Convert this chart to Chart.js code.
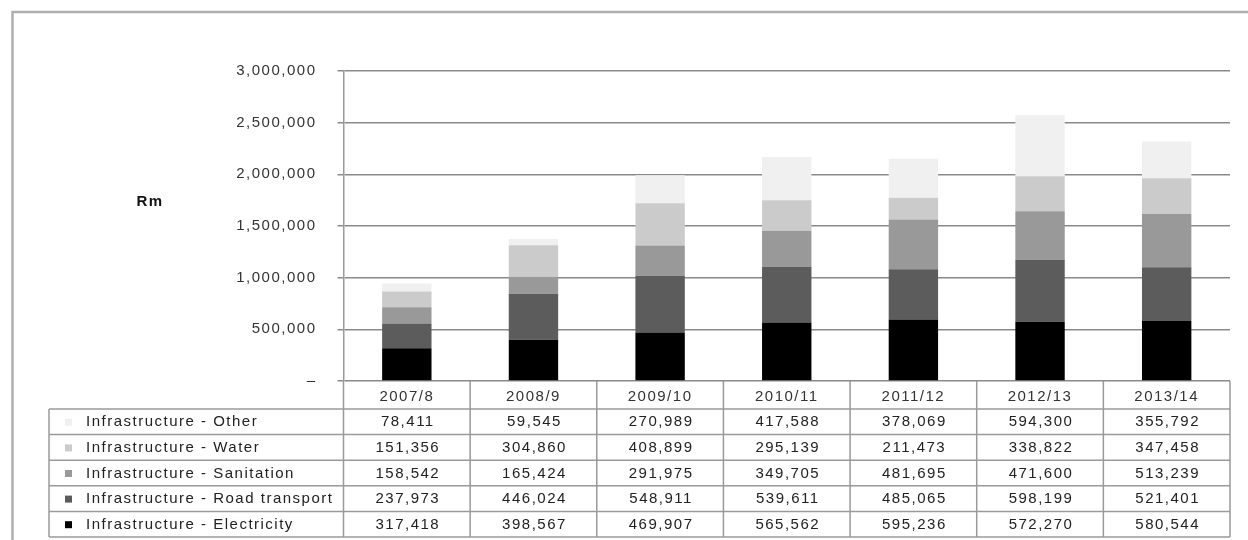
<!DOCTYPE html>
<html>
<head>
<meta charset="utf-8">
<script src="https://cdn.jsdelivr.net/npm/chart.js@4.4.1/dist/chart.umd.min.js"></script>
<style>
  html, body { margin: 0; padding: 0; background: #fff; }
  #wrap { width: 1248px; height: 540px; position: relative; }
</style>
</head>
<body>
<div id="wrap"><canvas id="c" width="1248" height="540"></canvas></div>
<script>
// Capital spending by infrastructure type, Rm
const years = ['2007/8', '2008/9', '2009/10', '2010/11', '2011/12', '2012/13', '2013/14'];
const electricity   = [317418, 398567, 469907, 565562, 595236, 572270, 580544];
const roadTransport = [237973, 446024, 548911, 539611, 485065, 598199, 521401];
const sanitation    = [158542, 165424, 291975, 349705, 481695, 471600, 513239];
const water         = [151356, 304860, 408899, 295139, 211473, 338822, 347458];
const other         = [78411, 59545, 270989, 417588, 378069, 594300, 355792];
const yTicks = [0, 500000, 1000000, 1500000, 2000000, 2500000, 3000000];

const FONT_FAMILY = '"Liberation Sans", Arial, sans-serif';
const LINE = '#9a9a9a';

// bottom-up stacking order
const series = [
  { label: 'Infrastructure - Electricity',    data: electricity,   color: '#000000' },
  { label: 'Infrastructure - Road transport', data: roadTransport, color: '#5c5c5c' },
  { label: 'Infrastructure - Sanitation',     data: sanitation,    color: '#999999' },
  { label: 'Infrastructure - Water',          data: water,         color: '#cbcbcb' },
  { label: 'Infrastructure - Other',          data: other,         color: '#f0f0f0' }
];

const fmt = v => v.toLocaleString('en-US');

// wide Excel-style lettering
const spacingPlugin = {
  id: 'spacing',
  beforeDraw(chart) { chart.ctx.letterSpacing = '1.5px'; }
};

// frame, unit label and the data table under the axis
const tablePlugin = {
  id: 'dataTable',
  afterDraw(chart) {
    const ctx = chart.ctx;
    const xs = chart.scales.x;
    const area = chart.chartArea;
    const step = xs.getPixelForValue(1) - xs.getPixelForValue(0);
    const colLeft = i => xs.getPixelForValue(i) - step / 2;
    const right = colLeft(years.length);
    const headTop = area.bottom;
    const headBottom = xs.bottom;
    const rowH = 25.6;
    const legendLeft = 49;
    const rows = series.slice().reverse();
    const tableBottom = headBottom + rows.length * rowH;

    ctx.save();
    // outer frame
    ctx.strokeStyle = '#b0b0b0';
    ctx.lineWidth = 2.5;
    ctx.strokeRect(12.5, 12, 1400, 700);

    // unit label
    ctx.fillStyle = '#111';
    ctx.font = 'bold 15px ' + FONT_FAMILY;
    ctx.textAlign = 'center';
    ctx.textBaseline = 'middle';
    ctx.fillText('Rm', 150, 202);

    // grid of the table
    ctx.strokeStyle = LINE;
    ctx.lineWidth = 1.5;
    ctx.beginPath();
    for (let i = 0; i <= years.length; i++) {
      const x = colLeft(i);
      ctx.moveTo(x, headTop);
      ctx.lineTo(x, tableBottom);
    }
    for (let k = 0; k <= rows.length; k++) {
      const y = headBottom + k * rowH;
      ctx.moveTo(legendLeft, y);
      ctx.lineTo(right, y);
    }
    ctx.moveTo(legendLeft, headBottom);
    ctx.lineTo(legendLeft, tableBottom);
    ctx.stroke();

    // rows: legend key, series name, values
    ctx.font = '15px ' + FONT_FAMILY;
    ctx.textBaseline = 'middle';
    rows.forEach((s, k) => {
      const cy = headBottom + k * rowH + rowH / 2 + 0.5;
      ctx.fillStyle = s.color;
      ctx.fillRect(65, cy - 3.5, 7, 7);
      ctx.fillStyle = '#222';
      ctx.textAlign = 'left';
      ctx.fillText(s.label, 86, cy);
      ctx.textAlign = 'center';
      s.data.forEach((v, i) => {
        ctx.fillText(fmt(v), xs.getPixelForValue(i) + 1, cy);
      });
    });
    ctx.restore();
  }
};

new Chart(document.getElementById('c'), {
  type: 'bar',
  data: {
    labels: years,
    datasets: series.map(s => ({
      label: s.label,
      data: s.data,
      backgroundColor: s.color,
      borderWidth: 0,
      barPercentage: 0.39,
      categoryPercentage: 1.0
    }))
  },
  options: {
    responsive: false,
    animation: false,
    devicePixelRatio: 1,
    layout: { padding: { top: 71, right: 18, bottom: 131, left: 0 } },
    plugins: {
      legend: { display: false },
      tooltip: { enabled: false }
    },
    scales: {
      x: {
        stacked: true,
        grid: { display: false, drawTicks: false },
        border: { display: false },
        ticks: {
          color: '#333',
          font: { family: FONT_FAMILY, size: 15 },
          padding: 7,
          maxRotation: 0,
          autoSkip: false
        },
        afterFit(scale) { scale.height = 28; }
      },
      y: {
        stacked: true,
        min: 0,
        max: 3000000,
        z: 1,
        afterBuildTicks(scale) { scale.ticks = yTicks.map(v => ({ value: v })); },
        ticks: {
          color: '#333',
          font: { family: FONT_FAMILY, size: 15 },
          padding: 21,
          callback: v => (v === 0 ? '–' : fmt(v))
        },
        grid: { color: '#8a8a8a', lineWidth: 1.5, tickLength: 6 },
        border: { color: LINE, width: 1.5 },
        afterFit(scale) { scale.width = 343.5; }
      }
    }
  },
  plugins: [spacingPlugin, tablePlugin]
});
</script>
</body>
</html>
